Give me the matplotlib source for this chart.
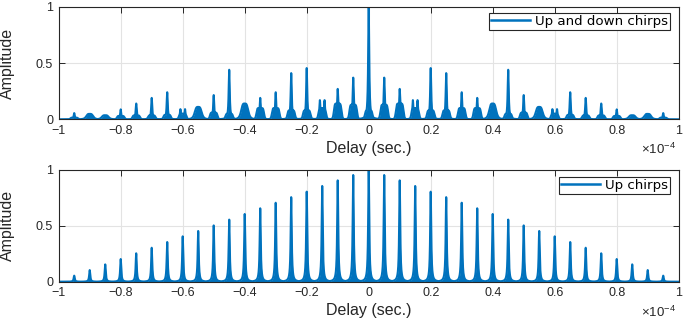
import numpy as np
import matplotlib
matplotlib.use("Agg")
import matplotlib.pyplot as plt
from matplotlib.ticker import FuncFormatter, MultipleLocator

# ---------------- data ----------------
# peak delays in microseconds (1e-6 s)
delays_us = [-95, -90, -85, -80, -75, -70, -65, -60, -55, -50,
             -45, -40, -35, -30, -25, -20, -15, -10, -5, 0,
             5, 10, 15, 20, 25, 30, 35, 40, 45, 50,
             55, 60, 65, 70, 75, 80, 85, 90, 95]

# "Up and down chirps": peak amplitude, pedestal amplitude, peak kind
updown_peak = [0.055, 0.048, 0.036, 0.088, 0.14, 0.19, 0.24, 0.09, 0.11, 0.215,
               0.44, 0.14, 0.19, 0.24, 0.41, 0.455, 0.17, 0.27, 0.37, 1.0,
               0.37, 0.27, 0.17, 0.455, 0.41, 0.24, 0.19, 0.14, 0.44, 0.215,
               0.11, 0.09, 0.24, 0.19, 0.14, 0.088, 0.036, 0.048, 0.055]
updown_base = [0.015, 0.02, 0.02, 0.03, 0.035, 0.035, 0.04, 0.05, 0.06, 0.06,
               0.05, 0.11, 0.10, 0.10, 0.08, 0.08, 0.10, 0.14, 0.13, 0.08,
               0.13, 0.14, 0.10, 0.08, 0.08, 0.10, 0.10, 0.11, 0.05, 0.06,
               0.06, 0.05, 0.04, 0.035, 0.035, 0.03, 0.02, 0.02, 0.015]
# S = single spike, D = split (double) spike, B = rounded bump
updown_kind = ["S", "B", "B", "S", "S", "S", "S", "D", "B", "S",
               "S", "B", "S", "S", "S", "S", "D", "S", "S", "S",
               "S", "S", "D", "S", "S", "S", "S", "B", "S", "S",
               "B", "D", "S", "S", "S", "S", "B", "B", "S"]

# "Up chirps": peak amplitude and pedestal amplitude
up_peak = [0.054, 0.104, 0.155, 0.203, 0.254, 0.304, 0.355, 0.406, 0.454, 0.504,
           0.556, 0.606, 0.657, 0.707, 0.757, 0.806, 0.857, 0.907, 0.955, 1.0,
           0.955, 0.907, 0.857, 0.806, 0.757, 0.707, 0.657, 0.606, 0.556, 0.504,
           0.454, 0.406, 0.355, 0.304, 0.254, 0.203, 0.155, 0.104, 0.054]
up_base = [0.01, 0.015, 0.02, 0.025, 0.03, 0.035, 0.04, 0.045, 0.05, 0.055,
           0.06, 0.065, 0.07, 0.075, 0.08, 0.085, 0.09, 0.09, 0.095, 0.11,
           0.095, 0.09, 0.09, 0.085, 0.08, 0.075, 0.07, 0.065, 0.06, 0.055,
           0.05, 0.045, 0.04, 0.035, 0.03, 0.025, 0.02, 0.015, 0.01]

series_labels = ["Up and down chirps", "Up chirps"]

# ---------------- build the delay-domain traces ----------------
t = np.linspace(-1e-4, 1e-4, 40001)


def spike(d, h, w=2.0e-7):
    return h / (1 + (d / w) ** 2)


def trace(peaks, bases, kinds, skirt="flat"):
    y = np.zeros_like(t)
    for c_us, h, b, k in zip(delays_us, peaks, bases, kinds):
        d = t - c_us * 1e-6
        if skirt == "flat":
            comp = b / (1 + (d / 1.25e-6) ** 8)
        else:
            comp = b * np.clip(1 - np.abs(d) / 1.6e-6, 0, None) ** 1.6
        if k == "S":
            comp = np.maximum(comp, spike(d, h))
        elif k == "D":
            comp = np.maximum(comp, spike(d - 7.5e-7, h))
            comp = np.maximum(comp, spike(d + 7.5e-7, h))
        else:  # rounded bump
            comp = np.maximum(comp, h / (1 + (d / 1.2e-6) ** 4))
            comp = np.maximum(comp, spike(d, h * 0.95, 3e-7))
        y = np.maximum(y, comp)
    return y


y_top = trace(updown_peak, updown_base, updown_kind, "flat")
y_bot = trace(up_peak, up_base, ["S"] * len(up_peak), "tri")

# ---------------- figure ----------------
plt.rcParams["font.family"] = ["Liberation Sans", "DejaVu Sans"]
plt.rcParams["mathtext.fontset"] = "custom"
plt.rcParams["mathtext.rm"] = "Liberation Sans"
plt.rcParams["mathtext.it"] = "Liberation Sans"

W, H = 685, 323
fig = plt.figure(figsize=(W / 100, H / 100), dpi=100)

col = "#0072BD"
axes_px = [(58.7, 6.7, 678.7, 119.3), (58.7, 170.0, 678.7, 281.7)]
legend_anchor = [(0.986, 0.944), (0.986, 0.937)]
ys = [y_top, y_bot]

for i, (l, tp, r, b) in enumerate(axes_px):
    ax = fig.add_axes([l / W, (H - b) / H, (r - l) / W, (b - tp) / H])
    ax.fill_between(t, 0, ys[i], color=col, lw=0)
    ax.plot(t, ys[i], color=col, lw=1.5, label=series_labels[i])
    ax.set_xlim(-1e-4, 1e-4)
    ax.set_ylim(0, 1)
    ax.xaxis.set_major_locator(MultipleLocator(0.2e-4))
    ax.xaxis.set_major_formatter(FuncFormatter(
        lambda v, p: ("%g" % round(v / 1e-4, 6)).replace("-", "\u2212")))
    ax.yaxis.set_major_locator(MultipleLocator(0.5))
    ax.yaxis.set_major_formatter(FuncFormatter(lambda v, p: "%g" % v))
    ax.grid(True, color="#e3e3e3", lw=0.8)
    ax.set_axisbelow(True)
    for s in ax.spines.values():
        s.set_color("#262626")
        s.set_linewidth(0.8)
    ax.tick_params(direction="in", length=4, width=0.7, color="#262626",
                   labelsize=9, labelcolor="#262626", top=True, right=True, pad=4)
    ax.set_ylabel("Amplitude", fontsize=11.5, color="#262626")
    ax.set_xlabel("Delay (sec.)", fontsize=11.5, color="#262626")
    ax.yaxis.set_label_coords((15 - l) / (r - l), 0.5)
    ax.xaxis.set_label_coords(0.5, -(141 - 119.3) / (b - tp))
    ax.text((676 - l) / (r - l), -(35) / (b - tp), r"$\times10^{-4}$",
            transform=ax.transAxes, ha="right", va="baseline",
            fontsize=9.5, color="#262626")
    leg = ax.legend(loc="upper right", bbox_to_anchor=legend_anchor[i],
                    borderaxespad=0, frameon=True, fancybox=False,
                    prop={"family": "DejaVu Sans", "size": 9.6},
                    handlelength=2.9, handletextpad=0.4, borderpad=0.15,
                    framealpha=1)
    leg.get_frame().set_edgecolor("#262626")
    leg.get_frame().set_linewidth(0.8)
    for line in leg.get_lines():
        line.set_linewidth(1.8)

fig.savefig("out.png", dpi=100)
